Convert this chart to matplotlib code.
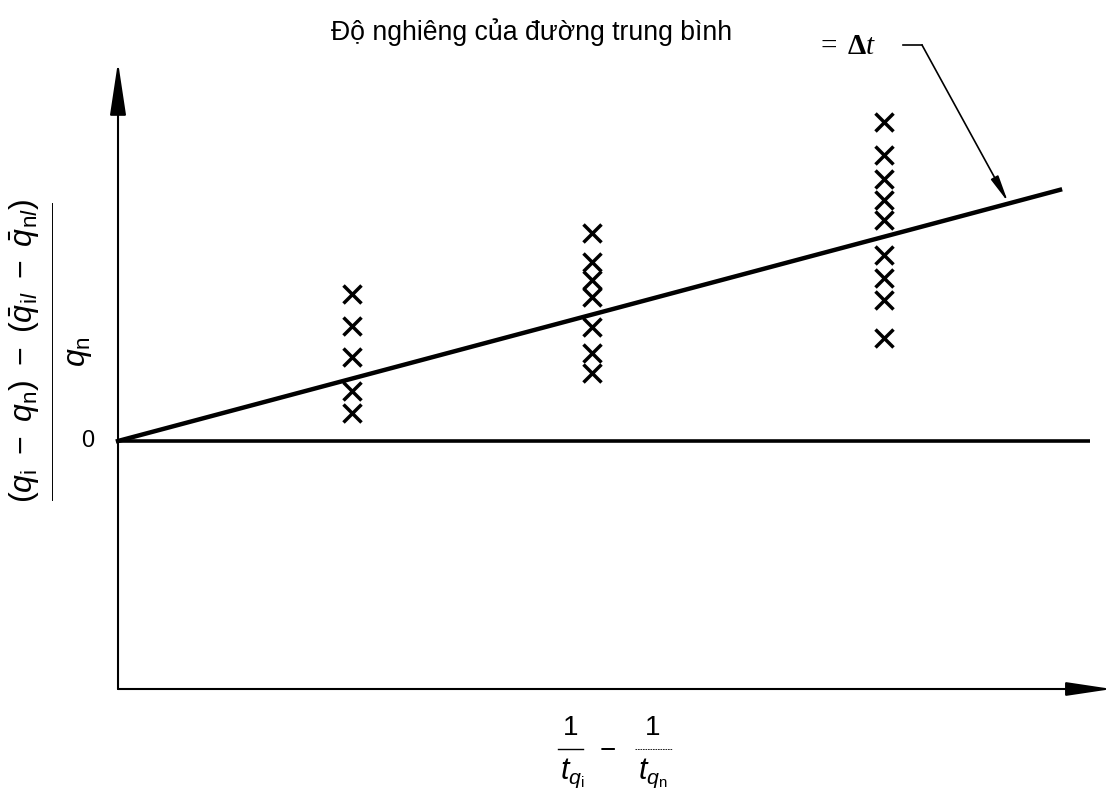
import matplotlib.pyplot as plt

plt.rcParams['font.family'] = ['Liberation Sans', 'DejaVu Sans']
plt.rcParams['mathtext.fontset'] = 'custom'
plt.rcParams['mathtext.rm'] = 'Liberation Sans'
plt.rcParams['mathtext.it'] = 'Liberation Sans:italic'

# group positions on the x axis and the scattered points in each group
group_x = [0.975, 1.975, 3.19]
group_y = [
    [1.47, 1.15, 0.84, 0.50, 0.28],
    [2.08, 1.79, 1.61, 1.44, 1.14, 0.88, 0.68],
    [3.19, 2.86, 2.62, 2.41, 2.21, 1.86, 1.63, 1.41, 1.03],
]
slope = 0.64
line_x = [0, 3.925]

title = "Độ nghiêng của đường trung bình"

fig = plt.figure(figsize=(11.13, 7.94), dpi=100)
ax = fig.add_axes([0, 0, 1, 1])
ax.set_xlim(-0.4917, 4.1458)
ax.set_ylim(-3.53, 4.41)
ax.axis("off")

# helpers: picture pixels -> data units
px = lambda p: (p - 118) / 240
py = lambda p: (441 - p) / 100

# axes with arrows
ax.annotate("", xy=(0, py(62)), xytext=(0, py(689)),
            arrowprops=dict(arrowstyle="-|>,head_length=3.3,head_width=0.5",
                            color="black", lw=1.5, shrinkA=0, shrinkB=0))
ax.annotate("", xy=(px(1112), py(689)), xytext=(0, py(689)),
            arrowprops=dict(arrowstyle="-|>,head_length=2.8,head_width=0.42",
                            color="black", lw=1.5, shrinkA=0, shrinkB=0))

# zero line
ax.plot([0, px(1090)], [0, 0], color="black", lw=2.6, solid_capstyle="butt")

# mean line
ax.plot(line_x, [slope * v for v in line_x], color="black", lw=3.2)

for gx, ys in zip(group_x, group_y):
    ax.plot([gx] * len(ys), ys, linestyle="none", marker="x", markersize=13,
            mew=2.5, color="black")

ax.text(px(88), 0, "0", fontsize=17, ha="center", va="center")

# y label as a hand-built fraction
ax.text(px(25), py(351),
        r'$(q_\mathrm{i}\ -\ q_\mathrm{n})\ -\ (\bar{q}_{\mathrm{i}l}\ -\ \bar{q}_{\mathrm{n}l})$',
        fontsize=23, rotation=90, ha="center", va="center")
ax.plot([px(52), px(52)], [py(203), py(500)], color="black", lw=0.7)
ax.text(px(79), py(352), r'$q_\mathrm{n}$', fontsize=23, rotation=90,
        ha="center", va="center")

# x label as two hand-built fractions
ax.text(px(571), py(728), "1", fontsize=20, ha="center", va="center")
ax.plot([px(558), px(583)], [py(749), py(749)], color="black", lw=1.0)
ax.text(px(572), py(773), r'$t_{q_\mathrm{i}}$', fontsize=22, ha="center", va="center")
ax.text(px(608), py(751), "−", fontsize=20, ha="center", va="center")
ax.text(px(653), py(728), "1", fontsize=20, ha="center", va="center")
ax.plot([px(635), px(672)], [py(749), py(749)], color="black", lw=0.6, ls=(0, (2, 1)))
ax.text(px(653), py(773), r'$t_{q_\mathrm{n}}$', fontsize=22, ha="center", va="center")

ax.text(px(532), py(32), title, fontsize=19.2, ha="center", va="center")

# slope label and pointer
ax.text(px(837), py(47), "=", fontsize=21, ha="right", va="center",
        family="Liberation Serif")
ax.text(px(848), py(47), "Δ", fontsize=21, ha="left", va="center",
        family="Liberation Serif", weight="bold")
ax.text(px(866), py(47), "t", fontsize=21, ha="left", va="center",
        family="Liberation Serif", style="italic")
ax.plot([px(903), px(922)], [py(45), py(45)], color="black", lw=1.2)
ax.annotate("", xy=(px(1008), py(202)), xytext=(px(922), py(45)),
            arrowprops=dict(arrowstyle="-|>,head_length=1.6,head_width=0.25",
                            color="black", lw=1.2, shrinkA=0, shrinkB=0))

fig.savefig("out.png", dpi=100)
